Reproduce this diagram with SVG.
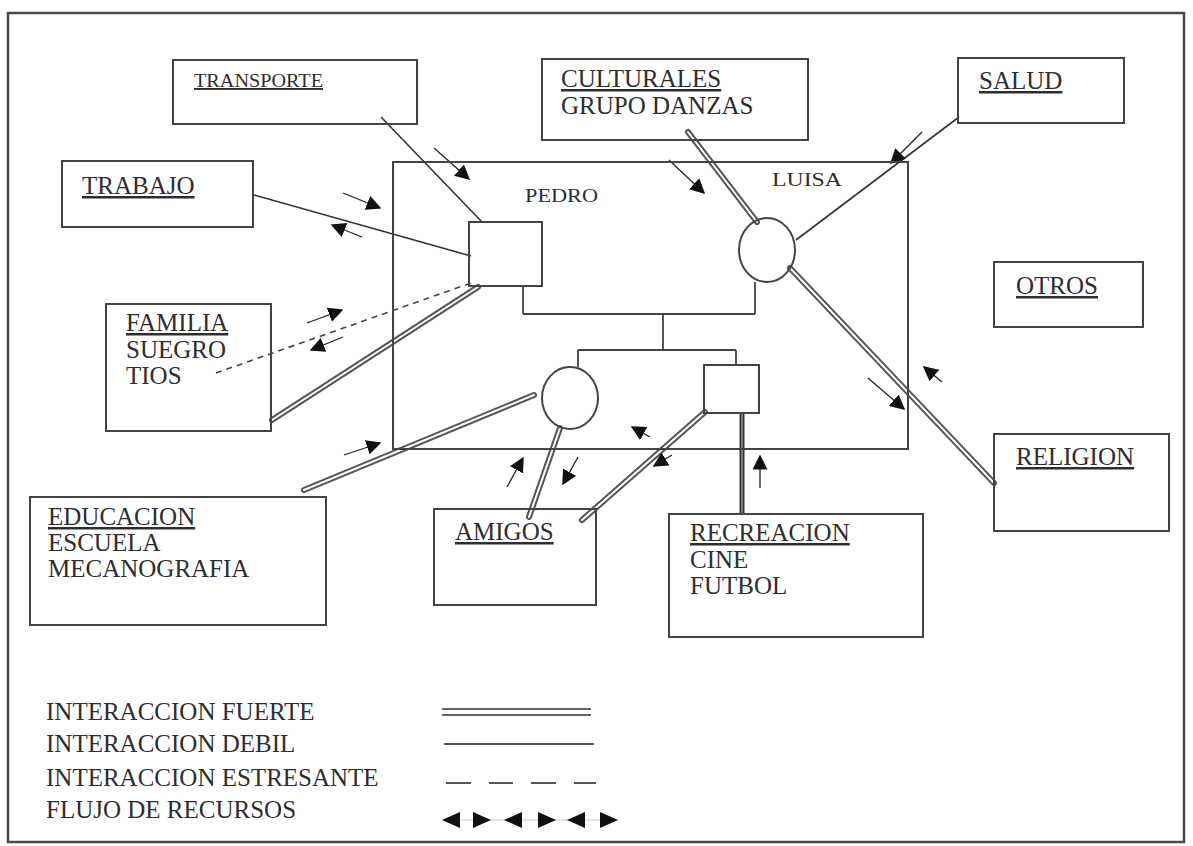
<svg xmlns="http://www.w3.org/2000/svg" width="1193" height="846" viewBox="0 0 1193 846">
<defs>
<style>
.frame{fill:none;stroke:#4a4a4a;stroke-width:2.5}
.box{fill:none;stroke:#444;stroke-width:2}
.t{font-family:"Liberation Serif","Times New Roman",serif;font-size:25px;fill:#2e2e2e}
.u{text-decoration:underline}
.weak{fill:none;stroke:#333;stroke-width:1.6}
.stress{fill:none;stroke:#444;stroke-width:1.6;stroke-dasharray:6 5}
.so{fill:none;stroke:#555;stroke-width:6;stroke-linecap:round}
.si{fill:none;stroke:#fff;stroke-width:2;stroke-linecap:round}
.flow{fill:none;stroke:#222;stroke-width:1.3;marker-end:url(#ah)}
.tree{fill:none;stroke:#444;stroke-width:1.8}
</style>
<marker id="ah" viewBox="0 0 10 10" refX="9" refY="5" markerWidth="15" markerHeight="15" markerUnits="userSpaceOnUse" orient="auto">
<path d="M0,0 L10,5 L0,10 z" fill="#111"/>
</marker>
</defs>
<rect x="0" y="0" width="1193" height="846" fill="#fff"/>
<rect class="frame" x="8" y="13" width="1176" height="829"/>

<g id="connectors">
<line class="weak" x1="381" y1="117" x2="482" y2="222"/>
<line class="weak" x1="254" y1="195" x2="471" y2="256"/>
<line class="weak" x1="959" y1="117" x2="796" y2="240"/>
<line class="stress" x1="216" y1="373" x2="471" y2="283"/>
<g>
<line class="so" x1="272" y1="420" x2="478" y2="287"/><line class="si" x1="272" y1="420" x2="478" y2="287"/>
<line class="so" x1="304" y1="490" x2="534" y2="395"/><line class="si" x1="304" y1="490" x2="534" y2="395"/>
<line class="so" x1="560" y1="428" x2="529" y2="517"/><line class="si" x1="560" y1="428" x2="529" y2="517"/>
<line class="so" x1="582" y1="520" x2="705" y2="412"/><line class="si" x1="582" y1="520" x2="705" y2="412"/>
<line class="so" x1="688" y1="132" x2="757" y2="222"/><line class="si" x1="688" y1="132" x2="757" y2="222"/>
<line class="so" x1="790" y1="268" x2="994" y2="483"/><line class="si" x1="790" y1="268" x2="994" y2="483"/>
<line x1="742" y1="413" x2="742" y2="514" stroke="#333" stroke-width="5"/><line x1="742" y1="413" x2="742" y2="514" stroke="#bbb" stroke-width="1"/>
</g>
<line class="flow" x1="434" y1="148" x2="469" y2="179"/>
<line class="flow" x1="343" y1="193" x2="380" y2="208"/>
<line class="flow" x1="362" y1="237" x2="332" y2="225"/>
<line class="flow" x1="307" y1="323" x2="342" y2="310"/>
<line class="flow" x1="343" y1="337" x2="311" y2="350"/>
<line class="flow" x1="344" y1="455" x2="380" y2="443"/>
<line class="flow" x1="507" y1="487" x2="523" y2="458"/>
<line class="flow" x1="578" y1="457" x2="563" y2="484"/>
<line class="flow" x1="650" y1="437" x2="632" y2="427"/>
<line class="flow" x1="672" y1="455" x2="654" y2="466"/>
<line class="flow" x1="760" y1="488" x2="760" y2="456"/>
<line class="flow" x1="669" y1="160" x2="704" y2="193"/>
<line class="flow" x1="922" y1="132" x2="891" y2="163"/>
<line class="flow" x1="868" y1="378" x2="904" y2="409"/>
<line class="flow" x1="942" y1="382" x2="924" y2="367"/>
</g>

<g id="family">
<rect class="box" x="393" y="162" width="515" height="287"/>
<text class="t" x="525" y="202" style="font-size:18px" textLength="73" lengthAdjust="spacingAndGlyphs">PEDRO</text>
<text class="t" x="772" y="186" style="font-size:18px" textLength="70" lengthAdjust="spacingAndGlyphs">LUISA</text>
<path class="tree" d="M523,286 V314 M523,314 H755 M755,282 V314 M663,314 V350 M578,350 H736 M578,350 V367 M736,350 V365"/>
</g>
<g id="pedro"><rect class="box" x="469" y="222" width="73" height="64" fill="#fff"/></g>
<g id="luisa"><ellipse class="box" cx="767" cy="250" rx="28" ry="32"/></g>
<g id="hija"><ellipse class="box" cx="570" cy="398" rx="28" ry="31"/></g>
<g id="hijo"><rect class="box" x="704" y="365" width="55" height="48"/></g>

<g id="transporte"><rect class="box" x="173" y="60" width="244" height="64"/>
<text class="t u" x="194" y="87" style="font-size:19px" textLength="129" lengthAdjust="spacingAndGlyphs">TRANSPORTE</text></g>
<g id="culturales"><rect class="box" x="542" y="59" width="266" height="81"/>
<text class="t u" x="561" y="87">CULTURALES</text>
<text class="t" x="561" y="114">GRUPO DANZAS</text></g>
<g id="salud"><rect class="box" x="958" y="58" width="166" height="65"/>
<text class="t u" x="979" y="89">SALUD</text></g>
<g id="trabajo"><rect class="box" x="62" y="161" width="191" height="66"/>
<text class="t u" x="82" y="194">TRABAJO</text></g>
<g id="otros"><rect class="box" x="994" y="262" width="149" height="65"/>
<text class="t u" x="1016" y="294">OTROS</text></g>
<g id="familia"><rect class="box" x="106" y="304" width="165" height="127"/>
<text class="t u" x="126" y="331">FAMILIA</text>
<text class="t" x="126" y="358">SUEGRO</text>
<text class="t" x="126" y="384">TIOS</text></g>
<g id="educacion"><rect class="box" x="30" y="497" width="296" height="128"/>
<text class="t u" x="48" y="525">EDUCACION</text>
<text class="t" x="48" y="551">ESCUELA</text>
<text class="t" x="48" y="577">MECANOGRAFIA</text></g>
<g id="amigos"><rect class="box" x="434" y="509" width="162" height="96"/>
<text class="t u" x="455" y="540">AMIGOS</text></g>
<g id="recreacion"><rect class="box" x="669" y="514" width="254" height="123"/>
<text class="t u" x="690" y="541">RECREACION</text>
<text class="t" x="690" y="568">CINE</text>
<text class="t" x="690" y="594">FUTBOL</text></g>
<g id="religion"><rect class="box" x="994" y="434" width="175" height="97"/>
<text class="t u" x="1016" y="465">RELIGION</text></g>

<g id="legend">
<text class="t" x="46" y="720">INTERACCION FUERTE</text>
<text class="t" x="46" y="752">INTERACCION DEBIL</text>
<text class="t" x="46" y="786">INTERACCION ESTRESANTE</text>
<text class="t" x="46" y="818">FLUJO DE RECURSOS</text>
<line x1="442" y1="709" x2="591" y2="709" stroke="#666" stroke-width="2"/>
<line x1="442" y1="715" x2="591" y2="715" stroke="#666" stroke-width="2"/>
<line x1="444" y1="744" x2="594" y2="744" stroke="#555" stroke-width="2"/>
<path d="M446,783 H471 M489,783 H513 M531,783 H556 M574,783 H596" stroke="#555" stroke-width="2"/>
<line x1="442" y1="820" x2="618" y2="820" stroke="#ccc" stroke-width="1"/>
<path d="M442,820 L460,812 L460,828 Z M491,820 L473,812 L473,828 Z M504,820 L522,812 L522,828 Z M556,820 L538,812 L538,828 Z M567,820 L585,812 L585,828 Z M618,820 L600,812 L600,828 Z" fill="#111"/>
</g>
</svg>
